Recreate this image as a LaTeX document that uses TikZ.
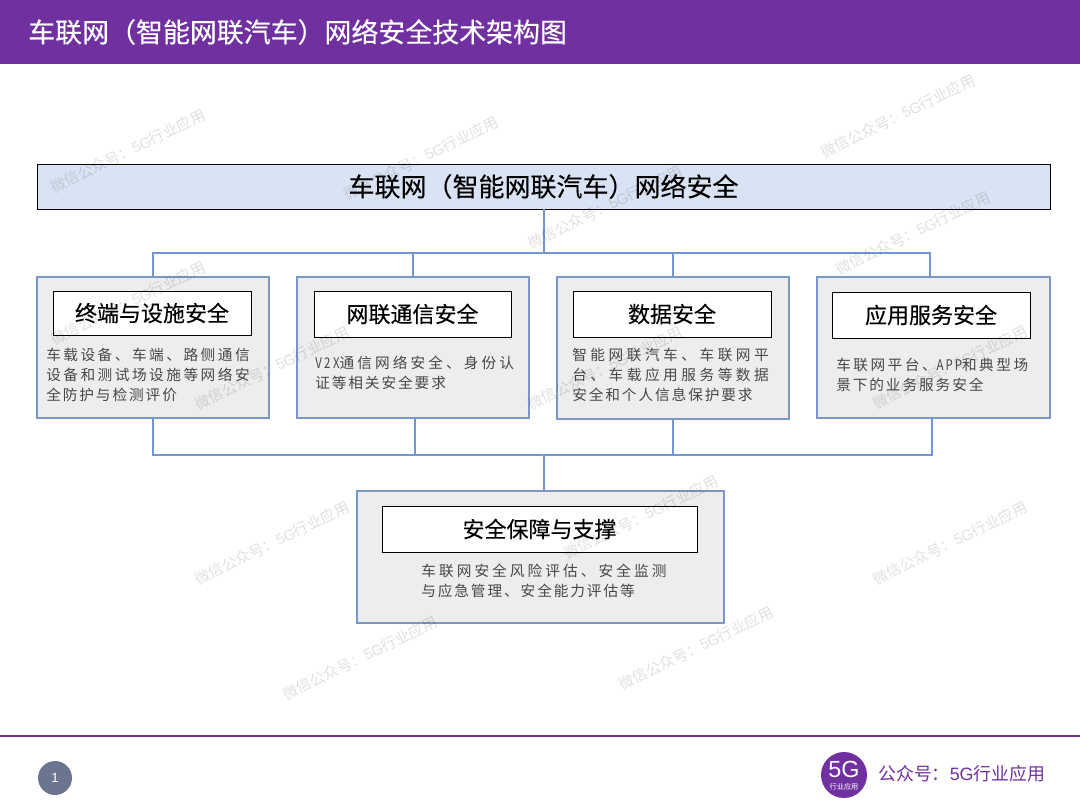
\documentclass[tikz,border=0pt]{standalone}
\usepackage{fontspec}
\setmainfont{Noto Sans CJK SC}
\newfontfamily\spN[LetterSpace=13]{Noto Sans CJK SC}
\newfontfamily\spA[LetterSpace=17]{Noto Sans CJK SC}
\newfontfamily\spB[LetterSpace=21]{Noto Sans CJK SC}
\newfontfamily\spC[LetterSpace=24]{Noto Sans CJK SC}
\newfontfamily\medfont[FakeBold=0.35]{Noto Sans CJK SC}
\newfontfamily\headfont[FakeBold=0.2]{Noto Sans CJK SC}
\newfontfamily\logofont{Liberation Sans}
\definecolor{brand}{HTML}{7030A0}
\definecolor{wire}{HTML}{4472C4}
\definecolor{edge}{HTML}{5B7DB8}
\definecolor{panelfill}{HTML}{EDEDED}
\definecolor{topfill}{HTML}{DAE3F3}
\definecolor{slatec}{HTML}{6B7590}
\newcommand{\narrowlatin}[1]{\scalebox{0.78}[1]{#1}}
\tikzset{
  panel/.style 2 args={draw=edge!80!white,line width=1.5pt,fill=panelfill,inner sep=0pt,minimum width=#1*0.75pt,minimum height=#2*0.75pt},
  headbox/.style 2 args={draw=black,line width=0.7pt,fill=white,inner sep=0pt,minimum width=#1*0.75pt,minimum height=#2*0.75pt,font=\headfont\fontsize{16.5pt}{18pt}\selectfont},
  bodytext/.style={anchor=west,inner sep=0pt,align=left,text=black!72,font=\fontsize{11pt}{15pt}\selectfont},
  wirel/.style={draw=wire!75!white,line width=1.5pt},
  wmark/.style={rotate=26,inner sep=0pt,text=black,text opacity=0.12,font=\fontsize{11.2pt}{13pt}\selectfont}
}
\begin{document}
\begin{tikzpicture}[x=0.75pt,y=-0.75pt]
\useasboundingbox (0,0) rectangle (1080,810);
% header
\fill[brand] (0,0) rectangle (1080,64);
\node[name=title,anchor=west,inner sep=0pt,text=white,font=\medfont\fontsize{20.2pt}{22pt}\selectfont] at (28,32) {车联网（智能网联汽车）网络安全技术架构图};
% top
\node[name=top,draw=black,line width=0.7pt,fill=topfill,inner sep=0pt,minimum width=1013*0.75pt,minimum height=45*0.75pt,font=\headfont\fontsize{19.5pt}{21pt}\selectfont] at (543.5,186.5) {车联网（智能网联汽车）网络安全};
% panels
\node[name=pa,panel={232}{141}] at (152.5,347) {};
\node[name=pb,panel={232}{141}] at (412.5,347) {};
\node[name=pc,panel={232}{142}] at (672.5,347.5) {};
\node[name=pd,panel={233}{141}] at (933,347) {};
\node[name=pe,panel={367}{132}] at (540,556.5) {};
% heads
\node[name=ha,headbox={198}{44}] at (152,313) {终端与设施安全};
\node[name=hb,headbox={197}{46}] at (412.5,314) {网联通信安全};
\node[name=hc,headbox={198}{46}] at (672,314) {数据安全};
\node[name=hd,headbox={198}{46}] at (931,315) {应用服务安全};
\node[name=he,headbox={315}{46}] at (539.5,529) {安全保障与支撑};
% bodies
\node[name=ba,bodytext] at (46,375) {{\spA 车载设备、车端、路侧通信}\\{\spA 设备和测试场设施等网络安}\\{\spN 全防护与检测评价}};
\node[name=bb,bodytext] at (315,372.5) {{\spB \narrowlatin{V2X}通信网络安全、身份认}\\{\spN 证等相关安全要求}};
\node[name=bc,bodytext] at (572,375) {{\spC 智能网联汽车、车联网平}\\{\spC 台、车载应用服务等数据}\\{\spN 安全和个人信息保护要求}};
\node[name=bd,bodytext] at (836,375) {{\spA 车联网平台、\narrowlatin{APP}和典型场}\\{\spN 景下的业务服务安全}};
\node[name=be,bodytext] at (421,581) {{\spB 车联网安全风险评估、安全监测}\\{\spN 与应急管理、安全能力评估等}};
% bus coordinates
\coordinate (bt) at (543.5,252.5);
\coordinate (bb1) at (543.5,454.5);
\coordinate (dn) at (929.5,277);
\coordinate (dm) at (931.5,417);
\coordinate (cm) at (414.5,417);
\coordinate (em) at (543.5,491);
% connectors
\draw[wirel] (top.south -| bt) -- (bt);
\draw[wirel] (pa.north) |- (bt) -| (pb.north);
\draw[wirel] (bt) -| (pc.north);
\draw[wirel] (bt) -| (dn);
\draw[wirel] (pa.south) |- (bb1) -| (cm);
\draw[wirel] (bb1) -| (pc.south);
\draw[wirel] (bb1) -| (dm);
\draw[wirel] (bb1) -- (em);
% footer
\coordinate (fl) at (0,736);
\coordinate (fr) at (1080,736);
\draw[brand,line width=1.1pt] (fl) -- (fr);
\node[name=pg,circle,fill=slatec,inner sep=0pt,minimum size=34*0.75pt,text=white,font=\logofont\fontsize{10pt}{10pt}\selectfont] at (55,778) {1};
\node[name=lg,circle,fill=brand,inner sep=0pt,minimum size=46*0.75pt] at (844,775) {};
\node[name=lg5,inner sep=0pt,text=white,font=\logofont\fontsize{17.5pt}{18pt}\selectfont] at (844,769) {5G};
\node[name=lgt,inner sep=0pt,text=white,font=\fontsize{5.4pt}{6pt}\selectfont] at (844,787) {行业应用};
\node[name=pub,anchor=west,inner sep=0pt,text=brand,font=\fontsize{13.4pt}{15pt}\selectfont] at (878,774) {公众号：{\logofont 5G}行业应用};
% watermarks
\foreach \i/\x/\y in {1/128/151,2/421/158,3/898/116,4/605/207,5/913/233,6/128/303,7/272/368,8/605/368,9/950/367,10/272/543,11/641/517,12/950/543,13/360/658,14/696/648}
  \node[name=w\i,wmark] at (\x,\y) {微信公众号：{\logofont 5G}行业应用};
\end{tikzpicture}
\end{document}
